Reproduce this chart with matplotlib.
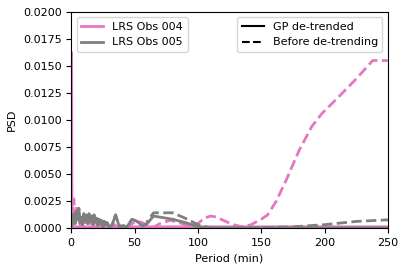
import matplotlib.pyplot as plt
from matplotlib.lines import Line2D

plt.rcParams['font.size'] = 8

# LRS Obs 004, GP de-trended
p004_gp = [0.3, 0.6, 2, 10, 30, 60, 100, 150, 200, 250]
psd004_gp = [0.0162, 0.0001, 0.0001, 0.0001, 0.0001, 0.0001, 0.0001, 0.0001, 0.0001, 0.0001]

# LRS Obs 004, before de-trending
p004_raw = [1, 2, 3, 4, 5, 6, 7, 8, 9, 10, 11, 12, 13, 14, 15, 16, 18, 20, 22, 24, 26,
            28, 30, 33, 36, 40, 44, 48, 52, 56, 60, 64, 70, 78, 85, 92, 100, 105, 110,
            115, 120, 128, 135, 142, 150, 155, 162, 170, 180, 190, 198, 210, 225, 238, 250]
psd004_raw = [0.0010, 0.0027, 0.0012, 0.0020, 0.0006, 0.0014, 0.0003, 0.0011, 0.0005,
              0.0013, 0.0002, 0.0009, 0.0004, 0.0010, 0.0002, 0.0008, 0.0003, 0.0007,
              0.0002, 0.0006, 0.0001, 0.0005, 0.0002, 0.0004, 0.0001, 0.0003, 0.0001,
              0.0004, 0.0006, 0.0005, 0.0002, 0.0000, 0.0004, 0.0007, 0.0005, 0.0002,
              0.0004, 0.0009, 0.0011, 0.0010, 0.0007, 0.0003, 0.0001, 0.0003, 0.0008,
              0.0012, 0.0025, 0.0045, 0.0072, 0.0094, 0.0106, 0.0120, 0.0138, 0.0155, 0.0155]

# LRS Obs 005, GP de-trended
p005_gp = [0.5, 1, 2, 3, 4, 5, 6, 7, 8, 9, 10, 11, 12, 13, 14, 15, 16, 17, 18, 19, 20,
           21, 22, 23, 24, 25, 26, 27, 28, 30, 32, 35, 38, 41, 44, 48, 52, 56, 60, 65,
           70, 80, 90, 100, 110, 150, 200, 250]
psd005_gp = [0.0002, 0.0006, 0.0013, 0.0004, 0.0015, 0.0008, 0.0018, 0.0005, 0.0010,
             0.0003, 0.0013, 0.0007, 0.0012, 0.0004, 0.0013, 0.0006, 0.0011, 0.0003,
             0.0012, 0.0005, 0.0009, 0.0002, 0.0008, 0.0004, 0.0007, 0.0001, 0.0006,
             0.0003, 0.0005, 0.0001, 0.0002, 0.0012, 0.0001, 0.0002, 0.0001, 0.0008,
             0.0006, 0.0002, 0.0004, 0.0011, 0.0010, 0.0008, 0.0005, 0.0001, 0.0000,
             0.0000, 0.0000, 0.0000]

# LRS Obs 005, before de-trending (low periods follow the GP curve)
p005_raw = [60, 65, 72, 80, 90, 100, 110, 140, 175, 200, 225, 250]
psd005_raw = [0.0006, 0.0014, 0.0014, 0.0014, 0.0009, 0.0003, 0.0000, 0.0000, 0.0001,
              0.0003, 0.0006, 0.00075]

pink = '#e377c2'
gray = '#7f7f7f'

fig, ax = plt.subplots(figsize=(4.07, 2.71), dpi=100)
fig.subplots_adjust(left=0.175, right=0.953, bottom=0.159, top=0.956)

ax.plot(p004_raw, psd004_raw, color=pink, lw=2, ls='--')
ax.plot(p004_gp, psd004_gp, color=pink, lw=2)
ax.plot(p005_gp, psd005_gp, color=gray, lw=2)
ax.plot(p005_gp[:39] + p005_raw, psd005_gp[:39] + psd005_raw, color=gray, lw=2, ls='--')

ax.set_xlim(0, 250)
ax.set_ylim(0, 0.02)
ax.set_xlabel('Period (min)')
ax.set_ylabel('PSD')

obs_handles = [Line2D([], [], color=pink, lw=2), Line2D([], [], color=gray, lw=2)]
leg1 = ax.legend(obs_handles, ['LRS Obs 004', 'LRS Obs 005'], loc='upper left')
ax.add_artist(leg1)
style_handles = [Line2D([], [], color='k', lw=1.5), Line2D([], [], color='k', lw=1.5, ls='--')]
ax.legend(style_handles, ['GP de-trended', 'Before de-trending'], loc='upper right')

plt.savefig('out.png', dpi=100)
